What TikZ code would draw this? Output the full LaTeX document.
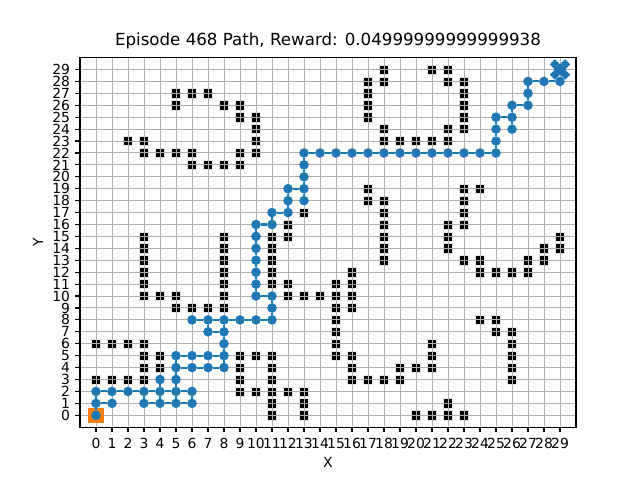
\documentclass[tikz,border=0pt]{standalone}
\usepackage{fontspec}
\setmainfont{DejaVu Sans}
\definecolor{c0}{HTML}{1F77B4}
\definecolor{c1}{HTML}{FF7F0E}
\definecolor{gridc}{HTML}{B0B0B0}
\begin{document}
\begin{tikzpicture}[x=0.72pt,y=0.72pt,
  obs/.style={rectangle,fill=black,draw=black!10,line width=0.4pt,minimum size=6.6pt,inner sep=0pt,outer sep=0pt},
  gridl/.style={draw=gridc,line width=0.7pt},
  waypt/.style={circle,fill=c0,minimum size=6.9pt,inner sep=0pt,outer sep=0pt},
  pathl/.style={draw=c0,line width=1.5pt},
  startsq/.style={rectangle,fill=c1,minimum size=11pt,inner sep=0pt,outer sep=0pt},
  tickl/.style={font=\fontsize{10}{12}\selectfont,inner sep=0pt},
  tickm/.style={line width=0.8pt,black},
]
\useasboundingbox (0,0) rectangle (640,480);
\fill[white] (0,0) rectangle (640,480);
\begin{scope}[shift={(69.12pt,46.598pt)},x=11.52pt,y=8.5846pt]
  % obstacles
  \foreach \yy/\xs in {29/{18,21,22},28/{17,18,22,23},27/{5,6,7,17,23},26/{5,8,9,17,23},
    25/{9,10,17,23},24/{10,18,22,23},23/{2,3,10,18,19,20,21,22},22/{3,4,5,6,9,10},
    21/{6,7,8,9},19/{17,23,24},18/{17,18,23},17/{13,18,23},16/{12,18,22,23},
    15/{3,8,11,12,18,22,29},14/{3,8,11,18,22,28,29},13/{3,8,11,18,23,24,27,28},
    12/{3,8,11,16,24,25,26,27},11/{3,8,11,12,15,16},10/{3,4,5,8,12,13,14,15,16},
    9/{5,6,7,8,15,16},8/{15,24,25},7/{15,25,26},6/{0,1,2,3,15,21,26},
    5/{3,4,9,10,11,15,16,21,26},4/{3,4,9,11,16,19,20,21,26},
    3/{0,1,2,3,9,11,16,17,18,19,26},2/{9,10,11,12,13},1/{11,13,22},0/{11,13,20,21,22,23}}
  {\foreach \xx in \xs {\node[obs] (o-\xx-\yy) at (\xx,\yy) {};}}
  % grid
  \foreach \i in {0,...,29} {
    \draw[gridl] (\i,-1) -- (\i,30);
    \draw[gridl] (-1,\i) -- (30,\i);
  }
  % start
  \node[startsq] (start) at (0,0) {};
  % path points
  \foreach \px/\py in {0/0,0/1,1/1,0/2,1/2,2/2,3/2,4/2,5/2,6/2,3/1,4/1,5/1,6/1,4/3,5/3,5/4,5/5,
    6/4,7/4,8/4,6/5,7/5,8/5,8/6,8/7,7/7,7/8,6/8,8/8,9/8,10/8,11/8,11/9,11/10,10/10,
    10/11,10/12,10/13,10/14,10/15,10/16,11/16,11/17,12/17,12/18,12/19,13/19,13/18,
    13/20,13/21,13/22,14/22,15/22,16/22,17/22,18/22,19/22,20/22,21/22,22/22,23/22,24/22,25/22,
    25/23,25/24,25/25,26/25,26/24,26/26,27/26,27/27,27/28,28/28,29/28}
  {\node[waypt] (p-\px-\py) at (\px,\py) {};}
  % path edges
  \foreach \a/\b in {0-0/0-1,0-1/1-1,0-1/0-2,0-2/1-2,1-2/2-2,2-2/3-2,3-2/4-2,4-2/5-2,5-2/6-2,
    3-2/3-1,3-1/4-1,4-1/5-1,5-1/6-1,6-1/6-2,4-1/4-2,4-2/4-3,5-1/5-2,5-2/5-3,5-3/5-4,5-4/5-5,
    5-4/6-4,6-4/7-4,7-4/8-4,5-5/6-5,6-5/7-5,7-5/8-5,8-4/8-5,8-5/8-6,8-6/8-7,8-7/8-8,
    7-7/8-7,7-7/7-8,6-8/7-8,7-8/8-8,8-8/9-8,9-8/10-8,10-8/11-8,11-8/11-9,11-9/11-10,
    10-10/11-10,10-10/10-11,10-11/10-12,10-12/10-13,10-13/10-14,10-14/10-15,10-15/10-16,
    10-16/11-16,11-16/11-17,11-17/12-17,12-17/12-18,12-18/12-19,12-19/13-19,13-18/13-19,
    13-19/13-20,13-20/13-21,13-21/13-22,
    25-22/25-23,25-23/25-24,25-24/25-25,25-25/26-25,26-24/26-25,26-25/26-26,26-26/27-26,
    27-26/27-27,27-27/27-28,27-28/28-28,28-28/29-28}
  {\draw[pathl] (p-\a) -- (p-\b);}
  \foreach \i [evaluate=\i as \j using int(\i+1)] in {13,...,24}
  {\draw[pathl] (p-\i-22) -- (p-\j-22);}
  % goal
  \coordinate (goal) at (29,29);
  \begin{scope}[shift={(goal)}]
    \fill[c0] (-3.7pt,-7.4pt) -- (0pt,-3.7pt) -- (3.7pt,-7.4pt) -- (7.4pt,-3.7pt) -- (3.7pt,0pt)
      -- (7.4pt,3.7pt) -- (3.7pt,7.4pt) -- (0pt,3.7pt) -- (-3.7pt,7.4pt) -- (-7.4pt,3.7pt)
      -- (-3.7pt,0pt) -- (-7.4pt,-3.7pt) -- cycle;
  \end{scope}
  % frame
  \draw[line width=0.8pt] (-1,-1) rectangle (30,30);
  % ticks
  \foreach \i in {0,...,29} {
    \draw[tickm] (\i,-1) -- ++(0,-3.5pt);
    \draw[tickm] (-1,\i) -- ++(-3.5pt,0);
    \node[tickl,yshift=-11.6pt] (xt\i) at (\i,-1) {\i};
    \node[tickl,anchor=east,xshift=-7pt] (yt\i) at (-1,\i) {\i};
  }
\end{scope}
\node[font=\fontsize{12}{14}\selectfont,anchor=base,inner sep=0pt] (title) at (328,434.6) {Episode 468 Path, Reward: 0.04999999999999938};
\node[font=\fontsize{10}{12}\selectfont,inner sep=0pt] (xlab) at (328,17.7) {X};
\node[font=\fontsize{10}{12}\selectfont,inner sep=0pt,rotate=90] (ylab) at (38,237.6) {Y};
\end{tikzpicture}
\end{document}
